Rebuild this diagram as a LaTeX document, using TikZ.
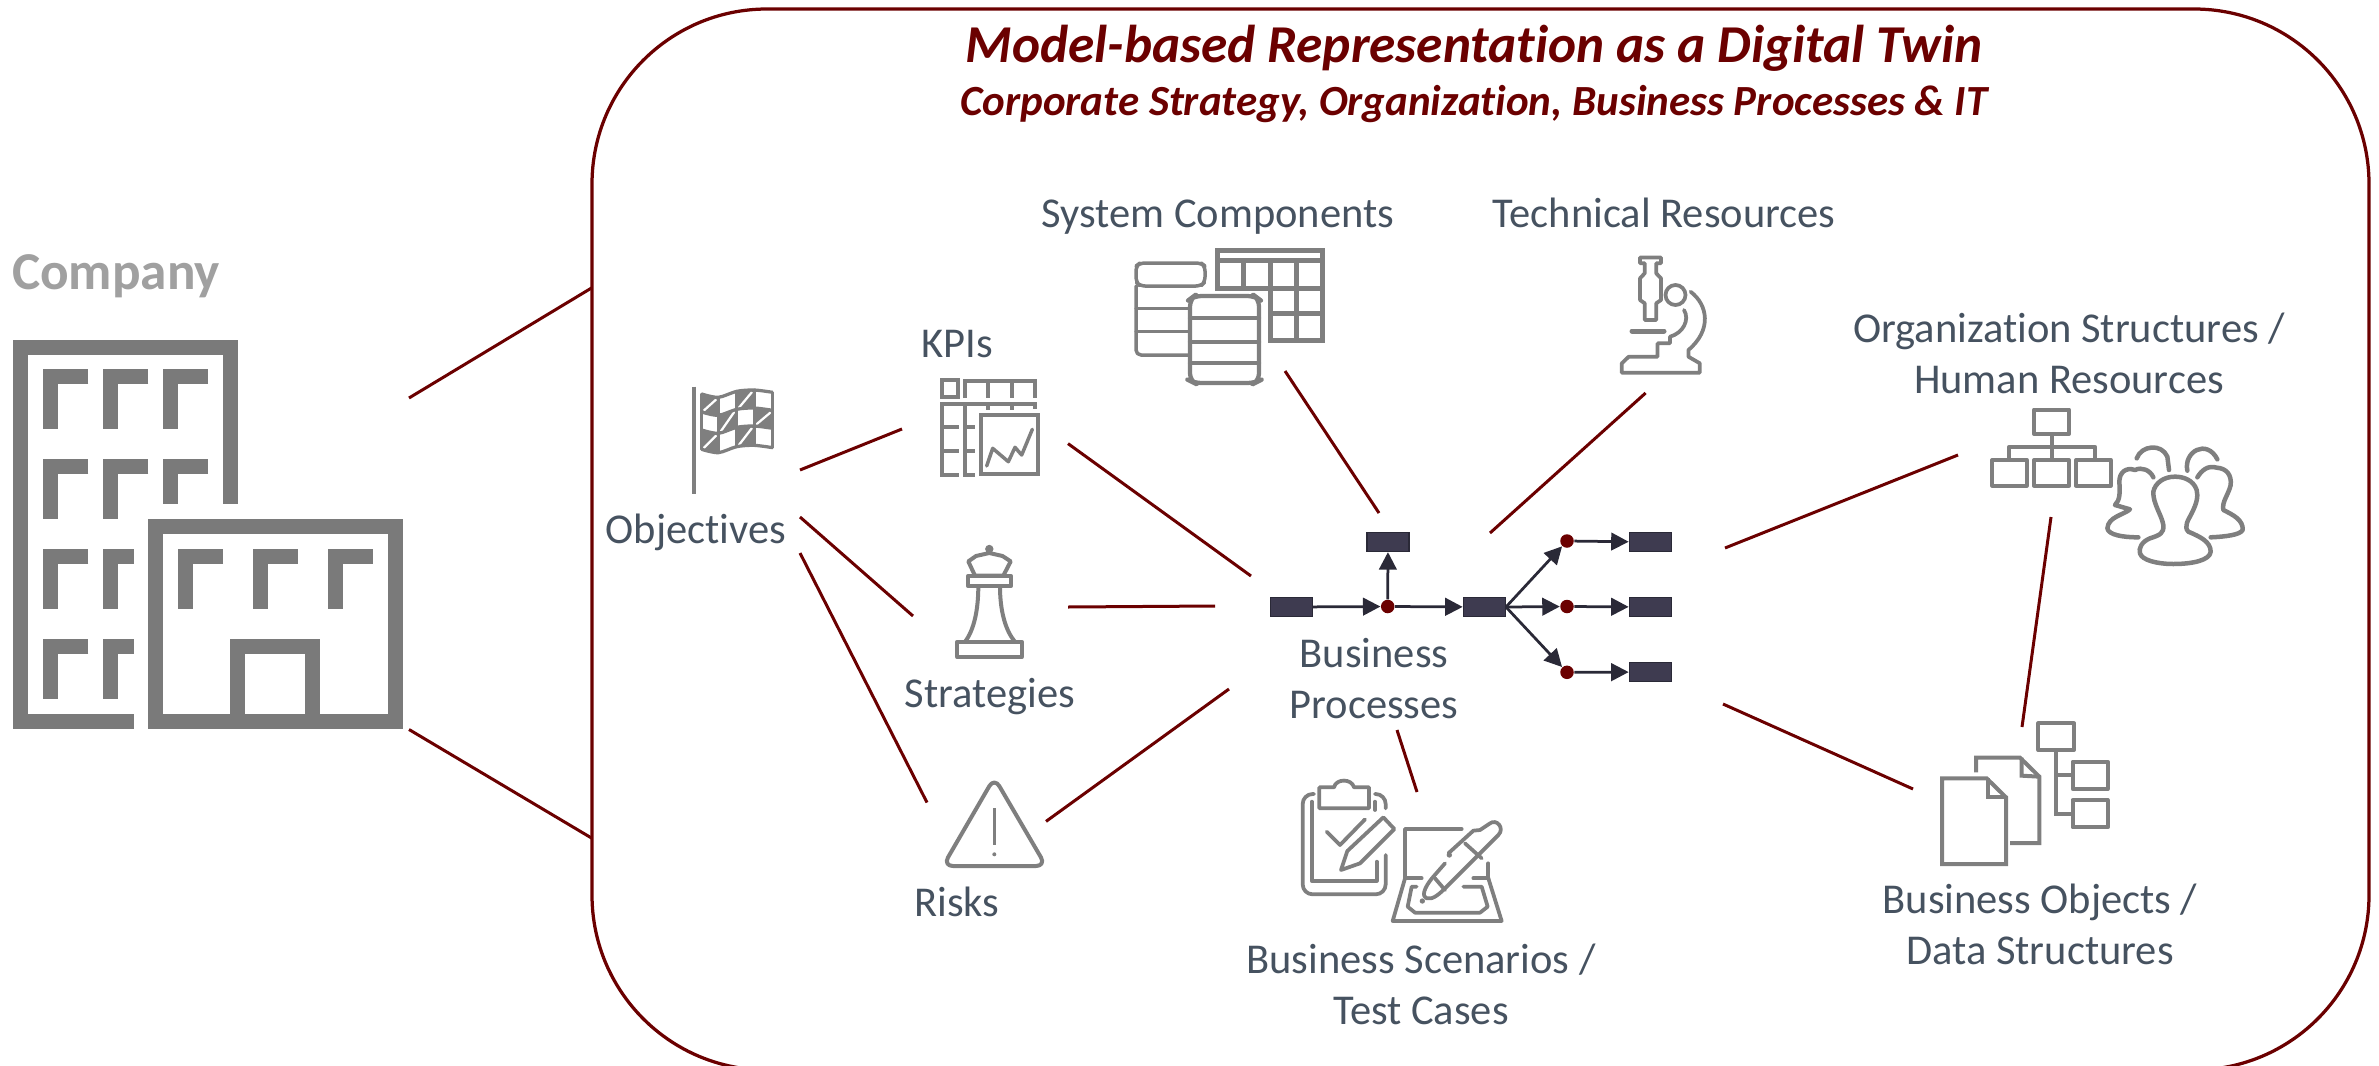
\documentclass[tikz,border=0pt]{standalone}
\usepackage{fontspec}
\setmainfont[Ligatures=NoCommon]{Carlito}
\usetikzlibrary{arrows.meta}
\definecolor{maroonc}{HTML}{6B0000}
\definecolor{labelc}{HTML}{465260}
\definecolor{iconc}{HTML}{7F7F7F}
\definecolor{bldc}{HTML}{7A7A7A}
\definecolor{compc}{HTML}{A0A0A0}
\definecolor{taskc}{HTML}{3E3B50}
\definecolor{taske}{HTML}{2A2937}
\tikzset{
  frameline/.style={draw=maroonc,line width=1.3pt},
  link/.style={draw=maroonc,line width=1.2pt},
  lab/.style={text=labelc,font=\fontsize{17}{20.4}\selectfont,inner sep=0pt,align=center},
  labb/.style={lab,anchor=base},
  bld/.style={draw=bldc,line width=6pt,miter limit=10},
  icon/.style={draw=iconc,line width=1.7pt,line join=miter},
  iconr/.style={draw=iconc,line width=1.6pt,line join=round,line cap=round},
  task/.style={rectangle,fill=taskc,draw=taske,line width=.5pt,inner sep=0pt,minimum width=16.8pt,minimum height=7.6pt},
  evt/.style={circle,fill=maroonc,inner sep=0pt,minimum size=5.4pt},
  flow/.style={draw=taske,line width=1.1pt,-{Triangle[length=7pt,width=7pt]}},
  z3/.style={x=0.13333pt,y=-0.13333pt},
}
\begin{document}
\begin{tikzpicture}[x=0.4pt,y=-0.4pt]
\useasboundingbox (0,0) rectangle (2379,1066);
\clip (0,0) rectangle (2379,1066);

% frame
\draw[frameline,rounded corners=70pt] (592,9) rectangle (2369,1070);

% titles
\node[anchor=base,inner sep=0pt,text=maroonc,font=\fontsize{21.3}{24}\selectfont\bfseries\itshape] (title) at (1474,62) {Model-based Representation as a Digital Twin};
\node[anchor=base,inner sep=0pt,text=maroonc,font=\fontsize{17.2}{20}\selectfont\bfseries\itshape] (subtitle) at (1474,115) {Corporate Strategy, Organization, Business Processes \& IT};
\node[anchor=base,inner sep=0pt,text=compc,font=\fontsize{21.3}{24}\selectfont\bfseries] (company) at (116,289) {Company};

% labels
\node[labb] (kpis) at (957,357) {KPIs};
\node[labb] (objectives) at (696,543) {Objectives};
\node[labb] (strategies) at (990,707) {Strategies};
\node[labb] (risks) at (957,916) {Risks};
\node[labb] (syscomp) at (1218,227) {System Components};
\node[labb] (techres) at (1664,227) {Technical Resources};
\node[lab] (orgres) at (2069,353) {Organization Structures /\\Human Resources};
\node[lab] (bproc) at (1374,679) {Business\\Processes};
\node[lab] (bscen) at (1421,984) {Business Scenarios /\\Test Cases};
\node[lab] (bobj) at (2040,924) {Business Objects /\\Data Structures};

% building icon
\begin{scope}[bld]
\draw (133.6,721.2)--(20.9,721.2)--(20.9,347)--(230.5,347)--(230.5,504);
\foreach \r/\e in {0/429.4,90/519.4,180/609.4,270/698.5}{
  \draw (88.4,376.9+\r)--(50.7,376.9+\r)--(50.7,\e);
}
\foreach \r/\e in {0/429.4,90/519.4}{
  \draw (148.4,376.9+\r)--(110.7,376.9+\r)--(110.7,\e);
}
\foreach \r/\e in {180/609.4,270/698.5}{
  \draw (133.6,376.9+\r)--(110.7,376.9+\r)--(110.7,\e);
}
\draw (208,376.9)--(170.7,376.9)--(170.7,429.4);
\draw (208,466.9)--(170.7,466.9)--(170.7,504);
\draw (155.5,526.5) rectangle (395,721.2);
\foreach \c in {0,74.8,149.7}{
  \draw (223+\c,556.7)--(185.5+\c,556.7)--(185.5+\c,609);
}
\draw (237.9,721.2)--(237.9,646.3)--(312.8,646.3)--(312.8,721.2);
\end{scope}

% flag and KPI icons
\begin{scope}[shift={(680,370)},z3]
\draw[icon,line width=1.6pt] (42,50)--(42,372);
\foreach \xa/\oa/\xb/\ob/\ba/\bb in {65/0/115/10/72/126,170/-8/222/-12/72/126,115/10/170/-8/126/180,222/-12/278/-5/126/180,65/0/115/10/180/238,170/-8/222/-12/180/238}{
  \fill[iconc] (\xa,\ba+\oa)--(\xb,\ba+\ob)--(\xb,\bb+\ob)--(\xa,\bb+\oa)--cycle;
  \draw[white,line width=.9pt] (\xa+6,\bb+\oa-4)--(\xb-6,\ba+\ob+6);
}
\foreach \b in {72,126,180,238}{
  \draw[iconr,line width=1.3pt,line cap=butt] plot[smooth] coordinates {(65,\b) (115,\b+10) (170,\b-8) (222,\b-12) (278,\b-5)};
}
\foreach \xx/\oo in {65/0,115/10,170/-8,222/-12,278/-5}{
  \draw[iconr,line width=1.2pt] (\xx,72+\oo)--(\xx,238+\oo);
}
\begin{scope}[icon,line width=1.6pt]
\draw (785,30) rectangle (835,80);
\draw (855,84)--(855,32)--(1065,32)--(1065,84);
\draw (925,32)--(925,84) (995,32)--(995,84);
\draw (780,103)--(1065,103)--(1065,118);
\draw (925,103)--(925,120) (995,103)--(995,120);
\draw (785,103)--(785,315)--(838,315);
\draw (785,172)--(838,172) (785,242)--(838,242);
\draw (855,103)--(855,315)--(884,315);
\draw (855,172)--(884,172) (855,242)--(884,242);
\draw (902,135) rectangle (1075,312);
\end{scope}
\draw[iconr,line width=1.4pt] (920,288)--(938,235)--(985,275)--(1005,232)--(1025,255)--(1057,178);
\end{scope}

% queen icon
\fill[iconc] (989.3,549) circle[radius=4.2];
\begin{scope}[icon,line width=1.6pt,line join=round]
\draw (989.3,553)--(976,556)--(968.3,561.4)--(975,575.7)--(1003.3,575.7)--(1010.7,561.4)--(1002.5,556)--cycle;
\draw (968.3,575.7) rectangle (1010.7,586.4);
\draw (978.3,586.4) .. controls (978.3,610) and (974,630) .. (965,641.8);
\draw (1000,586.4) .. controls (1000,610) and (1005,630) .. (1015,641.8);
\draw (957.3,641.8) rectangle (1021.7,657);
\end{scope}

% warning icon
\draw[iconr,rounded corners=4pt] (994.3,777.5)--(943,866)--(1046,866)--cycle;
\draw[icon,line width=1.2pt] (994.3,808)--(994.3,845);
\fill[iconc] (994.3,854.3) circle[radius=2];

% system components icon
\begin{scope}[icon,line width=2pt]
\draw (1217,288.3)--(1217,250.8)--(1322.2,250.8)--(1322.2,340.2)--(1270,340.2)--(1270,288.3)--cycle;
\draw (1217,260.8)--(1322.2,260.8);
\draw (1243.5,260.8)--(1243.5,288.3) (1270,260.8)--(1270,340) (1296.7,260.8)--(1296.7,340);
\draw (1270,288.3)--(1322.2,288.3) (1270,313.3)--(1322.2,313.3);
\end{scope}
\begin{scope}[iconr,line width=1.4pt]
\draw[rounded corners=2pt] (1140,263)--(1201,263)--(1205,266)--(1205,282)--(1201,286)--(1140,286)--(1136,282)--(1136,266)--cycle;
\draw[rounded corners=2pt] (1136,286)--(1136,355)--(1190,355);
\draw (1136,308.3)--(1190,308.3) (1136,331.7)--(1190,331.7);
\draw[fill=white,line width=1.7pt,rounded corners=3pt] (1190,299)--(1194,296)--(1255,296)--(1259,299)--(1259,381)--(1255,383)--(1194,383)--(1190,381)--cycle;
\draw[line width=1.7pt] (1190,318.3)--(1259,318.3) (1190,341.7)--(1259,341.7) (1190,363.3)--(1259,363.3);
\end{scope}

% microscope icon
\begin{scope}[iconr,line width=1.5pt]
\draw (1640,257.5)--(1661,257.5)--(1661,263.3)--(1656.2,263.3)--(1656.2,273.3)--(1661,278.3)--(1661,300)--(1656.2,303.3)--(1656.2,320)--(1644.7,320)--(1644.7,303.3)--(1640,300)--(1640,278.3)--(1644.7,273.3)--(1644.7,263.3)--(1640,263.3)--cycle;
\draw (1675.5,295) circle[radius=10];
\draw (1690.6,291.7) .. controls (1708,305) and (1712,330) .. (1688.4,350)--(1688.4,356.7)--(1699.8,363.3)--(1699.8,372.7)--(1621.8,372.7)--(1621.8,363.3)--(1628.7,356.7)--(1657.6,356.7)--(1657.6,343.3)--(1670,343.3)--(1670,336.7) .. controls (1683,333) and (1690,320) .. (1684,310);
\draw[line width=2pt] (1632,331)--(1664,331);
\end{scope}

% organization icon
\begin{scope}[icon,line width=1.6pt,line join=round]
\draw (2034,409.6) rectangle (2069,434);
\draw (1992.3,460) rectangle (2026.7,485.7);
\draw (2034,460) rectangle (2069,485.7);
\draw (2076,460) rectangle (2110.7,485.7);
\draw (2051.7,434)--(2051.7,460);
\draw (2009.3,460)--(2009.3,446.7)--(2095,446.7)--(2095,460);
\end{scope}

% people icon
\begin{scope}[shift={(1960,420)},z3,iconr,line width=1.8pt]
\draw (640,432) .. controls (700,432) and (750,420) .. (752,395) .. controls (752,365) and (720,350) .. (685,335) .. controls (670,320) and (685,300) .. (695,280) .. controls (710,250) and (715,230) .. (710,210) .. controls (700,180) and (670,170) .. (645,170) .. controls (610,170) and (585,190) .. (580,215) .. controls (578,250) and (605,285) .. (610,315) .. controls (612,340) and (600,345) .. (570,355) .. controls (545,365) and (535,385) .. (540,400) .. controls (545,420) and (590,432) .. (640,432) -- cycle;
\draw (580,172) .. controls (570,150) and (545,140) .. (525,150) .. controls (495,140) and (478,160) .. (478,185) .. controls (480,220) and (480,240) .. (465,255) -- (510,268) .. controls (490,285) and (445,290) .. (442,325) .. controls (445,345) and (490,352) .. (535,352);
\draw (712,172) .. controls (725,150) and (745,135) .. (770,143) .. controls (800,145) and (815,165) .. (812,195) .. controls (805,225) and (785,245) .. (790,270) .. controls (820,285) and (850,300) .. (848,330) .. controls (840,345) and (795,350) .. (752,352);
\draw (530,115) .. controls (545,75) and (605,70) .. (622,110) -- (627,150);
\draw (682,152) .. controls (670,95) and (740,55) .. (772,118);
\end{scope}

% documents icon
\begin{scope}[shift={(1920,710)},z3,icon,line width=1.6pt]
\draw (66,205)--(200,205)--(258,262)--(258,462)--(66,462)--cycle;
\draw (203,205)--(203,262)--(258,262);
\draw (168,187)--(168,143)--(300,143)--(358,200)--(358,399)--(270,399);
\draw (305,143)--(305,197)--(358,200);
\draw[line join=round] (355,40) rectangle (462,120);
\draw[line join=round] (458,155) rectangle (563,237);
\draw[line join=round] (458,270) rectangle (563,352);
\draw (407,120)--(407,313)--(458,313) (407,195)--(458,195);
\end{scope}

% clipboard and pen icon
\begin{scope}[shift={(1260,760)},z3,iconr,line width=1.5pt]
\draw[rounded corners=4pt] (162,102)--(128,102)--(128,403)--(377,403)--(377,285);
\draw[rounded corners=4pt] (345,102)--(377,102)--(377,145);
\draw (155,125)--(155,362)--(350,362)--(350,305);
\draw (345,125)--(345,150);
\draw (178,145)--(178,82)--(222,82) .. controls (228,55) and (275,55) .. (282,82)--(327,82)--(327,145)--cycle;
\draw (200,215)--(240,255)--(315,178);
\draw (370,172)--(403,207)--(300,310)--(243,330)--(262,273)--cycle;
\draw (435,355)--(435,207)--(605,207);
\draw (685,310)--(685,355);
\draw (435,355)--(485,355) (640,355)--(685,355);
\draw (435,355)--(398,483)--(725,483)--(685,355);
\draw (470,380)--(455,380)--(443,440)--(465,458)--(660,458)--(683,440)--(665,380)--(610,380);
\draw (555,310)--(520,350) .. controls (490,385) and (485,410) .. (500,415) .. controls (520,420) and (540,400) .. (560,380)--(715,225) .. controls (735,205) and (710,175) .. (690,190)--(660,210)--(640,212)--(565,280);
\draw (615,250)--(665,295) (525,355)--(555,390);
\fill[iconc] (568,285) circle[radius=8] (487,423) circle[radius=8];
\end{scope}

% business process
\node[task] (t1) at (1291.3,607) {};
\node[task] (t2) at (1388,542) {};
\node[task] (t3) at (1484.3,607) {};
\node[task] (t4) at (1650.3,542) {};
\node[task] (t5) at (1650.3,607) {};
\node[task] (t6) at (1650.3,672) {};
\node[evt] (e1) at (1387.7,606.5) {};
\node[evt] (e2) at (1567,541) {};
\node[evt] (e3) at (1567,606.5) {};
\node[evt] (e4) at (1567,672.3) {};
\draw[flow] (t1) -- (e1);
\draw[flow] (e1) -- (t2);
\draw[flow] (e1) -- (t3);
\draw[flow] (t3.east) -- (e2);
\draw[flow] (t3.east) -- (e3);
\draw[flow] (t3.east) -- (e4);
\draw[flow] (e2) -- (t4);
\draw[flow] (e3) -- (t5);
\draw[flow] (e4) -- (t6);

% connector ends
\coordinate (c1a) at (409,398);   \coordinate (c1b) at (591.5,288);
\coordinate (c2a) at (409,729.5); \coordinate (c2b) at (591.5,838);
\coordinate (c3a) at (800,470);   \coordinate (c3b) at (902,429);
\coordinate (c4a) at (800,517);   \coordinate (c4b) at (913,616);
\coordinate (c5a) at (800,553);   \coordinate (c5b) at (927,802.5);
\coordinate (c6a) at (1068,443.6);\coordinate (c6b) at (1251,576);
\coordinate (c7a) at (1068,607);  \coordinate (c7b) at (1215,606);
\coordinate (c8a) at (1046,821.4);\coordinate (c8b) at (1229,689);
\coordinate (c9a) at (1285,371);  \coordinate (c9b) at (1379,513);
\coordinate (c10a) at (1645.6,393);\coordinate (c10b) at (1490,533);
\coordinate (c11a) at (1397,730); \coordinate (c11b) at (1417,792);
\coordinate (c12a) at (1725,548); \coordinate (c12b) at (1958,455);
\coordinate (c13a) at (2051,517); \coordinate (c13b) at (2022,727);
\coordinate (c14a) at (1723,704); \coordinate (c14b) at (1913,789);
\foreach \n in {1,...,14}{\draw[link] (c\n a) -- (c\n b);}
\end{tikzpicture}
\end{document}
